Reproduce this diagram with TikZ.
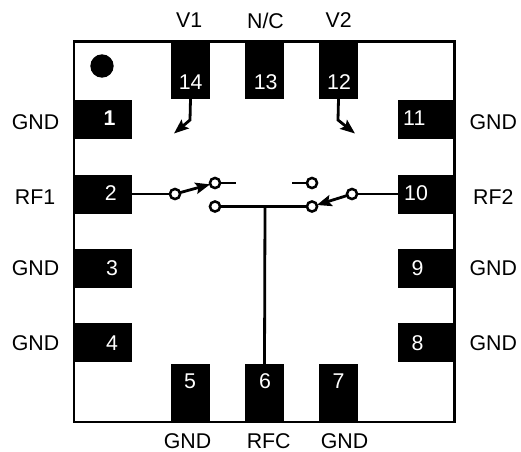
\documentclass[tikz,border=0pt]{standalone}
\usepackage{fontspec}
\setmainfont{Liberation Sans}
\usetikzlibrary{arrows.meta}
\tikzset{
  x=0.75pt,y=-0.75pt,
  hpad/.style={rectangle,fill=black,inner sep=0,outer sep=0,minimum width=43.5pt,minimum height=29.25pt},
  vpad/.style={rectangle,fill=black,inner sep=0,outer sep=0,minimum width=29.25pt,minimum height=43.5pt},
  num/.style={text=white,font=\fontsize{16pt}{18pt}\selectfont,inner sep=0},
  pin/.style={text=black,font=\fontsize{16pt}{18pt}\selectfont,inner sep=0},
  wire/.style={line width=2.1pt,line cap=butt},
  contact/.style={circle,draw=black,fill=white,line width=1.9pt,minimum size=7.6pt,inner sep=0,outer sep=0},
  tip/.style={-{Stealth[length=11pt,width=8.5pt,inset=2pt]}},
}
\begin{document}
\begin{tikzpicture}
\useasboundingbox (0,0) rectangle (521,451);
\draw[line width=2pt,line join=miter] (74,41.5) rectangle (454.5,422);
\node[circle,fill=black,minimum size=17.5pt,inner sep=0] (dot) at (102,66) {};

\node[hpad] (p1) at (102.5,119.5) {};
\node[hpad] (p2) at (102.5,194) {};
\node[hpad] (p3) at (102.5,268.2) {};
\node[hpad] (p4) at (102.5,342.5) {};
\node[hpad] (p11) at (427,119.5) {};
\node[hpad] (p10) at (427,194) {};
\node[hpad] (p9) at (427,268.2) {};
\node[hpad] (p8) at (427,342.5) {};
\node[vpad] (p14) at (190.5,70) {};
\node[vpad] (p13) at (264.5,70) {};
\node[vpad] (p12) at (338.5,70) {};
\node[vpad] (p5) at (190.5,393) {};
\node[vpad] (p6) at (264.5,393) {};
\node[vpad] (p7) at (338.5,393) {};

\node[num,font=\fontsize{16pt}{18pt}\selectfont\bfseries] at (109.5,117.7) {1};
\node[num] at (110.7,193.3) {2};
\node[num] at (112,268.3) {3};
\node[num] at (112,343) {4};
\node[num] at (414.3,118.3) {11};
\node[num] at (416,193.3) {10};
\node[num] at (417.5,268.3) {9};
\node[num] at (417.5,343) {8};
\node[num] at (190.7,81.7) {14};
\node[num] at (265.7,81.7) {13};
\node[num] at (339,81.7) {12};
\node[num] at (190,381.5) {5};
\node[num] at (265,381.5) {6};
\node[num] at (338.5,381.5) {7};

\node[pin] at (35.5,121.7) {GND};
\node[pin] at (35,196.7) {RF1};
\node[pin] at (35.5,268.3) {GND};
\node[pin] at (35.5,342.7) {GND};
\node[pin] at (493.3,121.7) {GND};
\node[pin] at (493.3,196.7) {RF2};
\node[pin] at (493.3,268.3) {GND};
\node[pin] at (493.3,342.7) {GND};
\node[pin] at (189.2,20.4) {V1};
\node[pin] at (265.5,20.4) {N/C};
\node[pin] at (338.7,20.4) {V2};
\node[pin] at (187.5,441) {GND};
\node[pin] at (268.7,441) {RFC};
\node[pin] at (344.5,441) {GND};

\coordinate (bend) at (265,206.5);
\coordinate (bo) at (236,183);
\coordinate (eo) at (292,183);
\coordinate (e14) at (190,120);
\coordinate (t14) at (174,133.5);
\coordinate (e12) at (338,120);
\coordinate (t12) at (355,133.5);
\node[contact] (a) at (175,194) {};
\node[contact] (b) at (215,183) {};
\node[contact] (c) at (215,206.5) {};
\node[contact] (d) at (312,206.5) {};
\node[contact] (e) at (312,183) {};
\node[contact] (f) at (352,194) {};

\draw[wire] (p2.east) -- (a);
\draw[wire] (p10.west) -- (f);
\draw[wire] (b) -- (bo);
\draw[wire] (e) -- (eo);
\draw[wire] (c) -- (d);
\draw[wire] (bend) -- (p6.north);
\draw[wire,tip] (a) -- (b);
\draw[wire,tip] (f) -- (d);
\draw[wire,tip] (p14.south) -- (e14) -- (t14);
\draw[wire,tip] (p12.south) -- (e12) -- (t12);
\end{tikzpicture}
\end{document}
